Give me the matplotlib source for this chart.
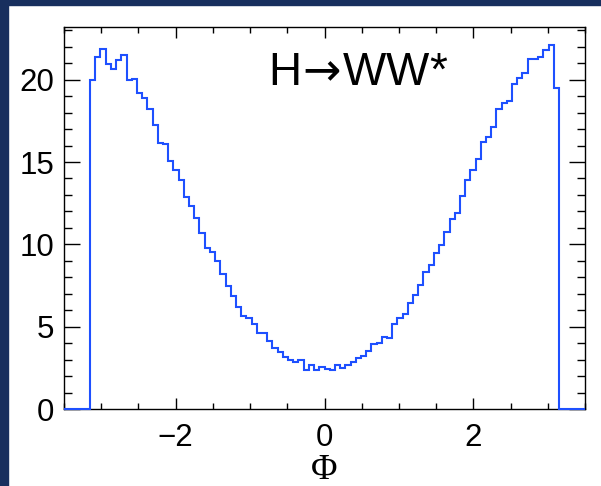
import numpy as np
import matplotlib
matplotlib.use("Agg")
import matplotlib.pyplot as plt
from matplotlib.patches import Rectangle
from matplotlib.ticker import MultipleLocator

# histogram: 100 bins from -3.5 to 3.5, data only inside [-pi, pi]
bin_lo, bin_hi, n_bins = -3.5, 3.5, 100
counts = [0, 0, 0, 0, 0,
          20.0, 21.35, 21.85, 20.97, 20.67, 21.2, 21.5, 19.98, 20.04, 19.2,
          18.9, 18.24, 17.27, 16.15, 16.07, 15.08, 14.49, 13.92, 12.89, 12.35,
          11.59, 10.66, 9.75, 9.54, 8.96, 8.17, 7.46, 6.87, 6.22, 5.65,
          5.51, 5.15, 4.64, 4.60, 4.11, 3.71, 3.48, 3.16, 2.96, 2.86,
          2.96, 2.39, 2.65, 2.39, 2.53, 2.41, 2.37, 2.69, 2.49, 2.69,
          2.86, 3.12, 3.24, 3.51, 3.93, 3.99, 4.40, 4.34, 5.17, 5.55,
          5.79, 6.41, 6.90, 7.56, 8.33, 8.75, 9.48, 9.97, 10.78, 11.55,
          11.93, 12.93, 13.88, 14.53, 15.19, 16.19, 16.53, 17.14, 18.20, 18.56,
          18.68, 19.74, 20.08, 20.38, 21.28, 21.26, 21.36, 21.80, 22.09, 19.51,
          0, 0, 0, 0, 0]
label = "H$\\!\\rightarrow\\!$WW*"

edges = np.linspace(bin_lo, bin_hi, n_bins + 1)

fig = plt.figure(figsize=(6.01, 4.86), dpi=100)
fig.patch.set_facecolor("white")
navy = "#182f5e"
fig.patches.append(Rectangle((0, 0), 8 / 601, 1, transform=fig.transFigure,
                             color=navy, zorder=0))
fig.patches.append(Rectangle((0, 1 - 5 / 486), 1, 5 / 486, transform=fig.transFigure,
                             color=navy, zorder=0))

ax = fig.add_axes([64 / 601, 77 / 486, 521 / 601, 382 / 486])
ax.stairs(counts, edges, color="#1e50ff", linewidth=1.5, baseline=0,
          clip_on=False, zorder=5)

ax.set_xlim(-3.5, 3.5)
ax.set_ylim(0, 23.2)
ax.xaxis.set_major_locator(MultipleLocator(2))
ax.xaxis.set_minor_locator(MultipleLocator(0.5))
ax.yaxis.set_major_locator(MultipleLocator(5))
ax.yaxis.set_minor_locator(MultipleLocator(1))

for s in ax.spines.values():
    s.set_linewidth(1.0)

font = ["Liberation Sans", "DejaVu Sans"]
ax.tick_params(axis="x", which="major", direction="in", length=8, width=1.0,
               top=True, pad=10, labelsize=22.5)
ax.tick_params(axis="x", which="minor", direction="in", length=4, width=1.0, top=True)
ax.tick_params(axis="y", which="major", direction="in", length=11.5, width=1.0,
               right=True, pad=7, labelsize=22.5)
ax.tick_params(axis="y", which="minor", direction="in", length=5.8, width=1.0, right=True)
for t in ax.get_xticklabels() + ax.get_yticklabels():
    t.set_family(font)

ax.set_xlabel("\u03a6", family=["Liberation Serif", "DejaVu Serif"], fontsize=26,
              labelpad=1)
ax.text(268 / 601, 1 - 85 / 486, label, transform=fig.transFigure, fontsize=33,
        family=font, ha="left", va="baseline")

fig.savefig("out.png", dpi=100)
